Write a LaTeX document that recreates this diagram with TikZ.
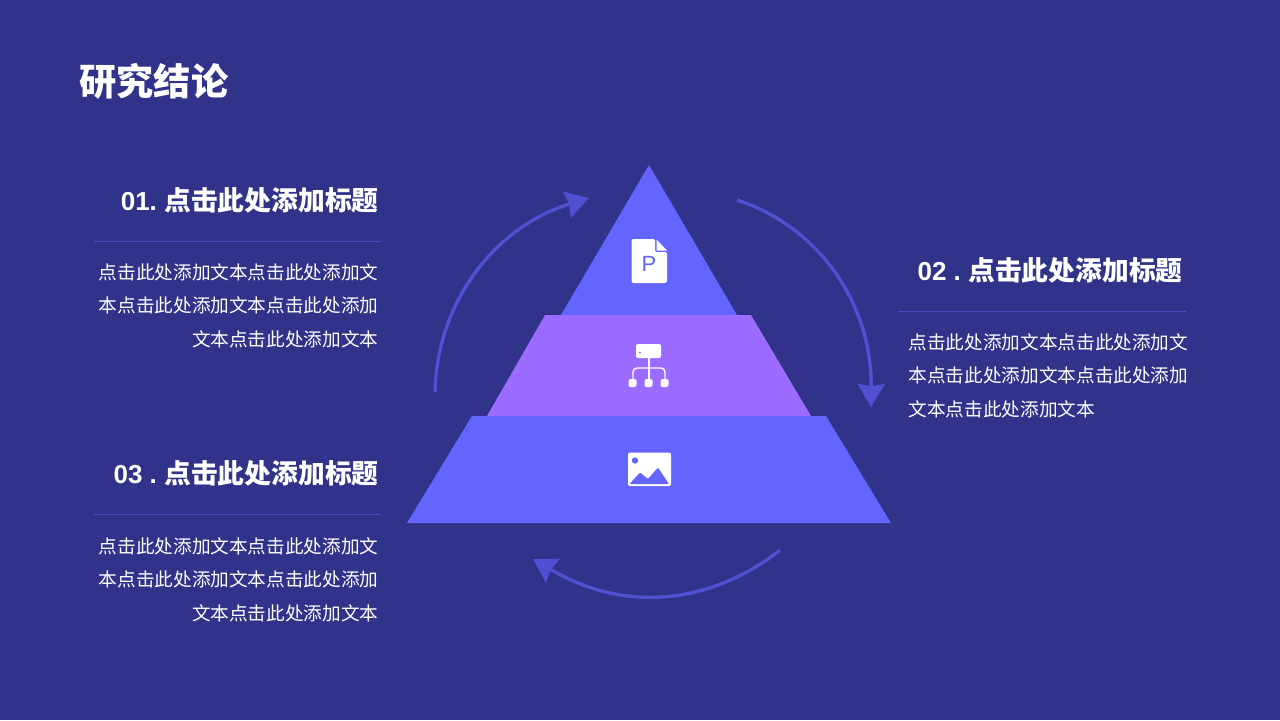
\documentclass[tikz,border=0pt]{standalone}
\usepackage{fontspec}
\setmainfont{Liberation Sans}
\newfontfamily\cjk{Noto Sans CJK SC}
\usetikzlibrary{arrows.meta}
\definecolor{bgblue}{HTML}{303389}
\definecolor{layerblue}{HTML}{6464FF}
\definecolor{layerviolet}{HTML}{9B6BFF}
\definecolor{arcblue}{HTML}{5050D2}
\definecolor{ruleblue}{HTML}{4A4AC4}
\tikzset{
  headline/.style={inner sep=0pt,text=white,font=\fontsize{13.4}{16}\selectfont\bfseries\cjk},
  bodytext/.style={inner sep=0pt,text=white,font=\fontsize{9.33}{16.75}\selectfont\cjk},
  rulerline/.style={draw=ruleblue,line width=0.5pt},
  cyclearc/.style={draw=arcblue,line width=1.7pt,-{Stealth[length=11.5pt,width=13.5pt,inset=1.2pt]}},
  iconwhite/.style={fill=white,rounded corners=1pt}
}
\newcommand{\numtext}[1]{{\fontspec{Liberation Sans}\fontsize{13}{16}\selectfont#1}\kern-1.2pt}
\begin{document}
\begin{tikzpicture}[x=0.5pt,y=-0.5pt]
  \useasboundingbox (0,0) rectangle (1280,720);
  \fill[bgblue] (0,0) rectangle (1280,720);
  \node[inner sep=0pt,anchor=west,text=white,font=\fontsize{18.6}{22}\selectfont\bfseries\cjk] (title) at (79,81) {研究结论};
  % pyramid
  \fill[layerblue] (649,165) -- (737,315) -- (561,315) -- cycle;
  \fill[layerviolet] (545,315) -- (751,315) -- (811,416) -- (487,416) -- cycle;
  \fill[layerblue] (472,416) -- (826,416) -- (891,523) -- (407,523) -- cycle;
  % arcs
  \coordinate (arcastart) at (435,392);
  \coordinate (arcaend) at (589,198);
  \coordinate (arcbstart) at (737,200);
  \coordinate (arcbend) at (871,407);
  \coordinate (arccstart) at (780,550);
  \coordinate (arccend) at (533,559);
  \draw[cyclearc] (arcastart) .. controls (437,300) and (497,226) .. (arcaend);
  \draw[cyclearc] (arcbstart) .. controls (815,225) and (872,300) .. (arcbend);
  \draw[cyclearc] (arccstart) .. controls (728,592) and (640,622) .. (arccend);
  % file icon
  \fill[iconwhite] (631.5,239) -- (655,239) -- (655,252) -- (667,252) -- (667,283) -- (631.5,283) -- cycle;
  \fill[white] (656.5,239.5) -- (667,250.5) -- (656.5,250.5) -- cycle;
  \node[inner sep=0pt,text=layerblue,font=\fontsize{11}{13}\selectfont] (filep) at (649,264) {P};
  % tree icon
  \fill[iconwhite] (636,344) rectangle (661,358);
  \fill[layerviolet] (640,352.5) circle (1);
  \draw[white,line width=0.7pt] (649,358) -- (649,381);
  \draw[white,line width=0.7pt,rounded corners=2pt] (633,381) -- (633,368) -- (665,368) -- (665,381);
  \foreach \i in {632.5,648.5,664.5}
    \fill[iconwhite] (\i-4,379) rectangle (\i+4,387);
  % picture icon
  \fill[iconwhite] (628,452.5) rectangle (671,486);
  \fill[layerblue] (635,460.5) circle (3.2);
  \fill[layerblue,rounded corners=0.5pt] (629.5,484) -- (640,472.5) -- (648,479) -- (658,467.5) -- (669,484) -- cycle;
  % first block
  \node[headline,anchor=east] (heada) at (379,200) {\numtext{01. }点击此处添加标题};
  \draw[rulerline] (94,241) -- (381,241);
  \node[bodytext,anchor=east,align=right] (texta) at (379,305.5) {点击此处添加文本点击此处添加文\\本点击此处添加文本点击此处添加\\文本点击此处添加文本};
  % second block
  \node[headline,anchor=east] (headb) at (1183,270) {\numtext{02 . }点击此处添加标题};
  \draw[rulerline] (898,311) -- (1186,311);
  \node[bodytext,anchor=west,align=left] (textb) at (908,375.5) {点击此处添加文本点击此处添加文\\本点击此处添加文本点击此处添加\\文本点击此处添加文本};
  % third block
  \node[headline,anchor=east] (headc) at (379,473) {\numtext{03 . }点击此处添加标题};
  \draw[rulerline] (94,514.5) -- (381,514.5);
  \node[bodytext,anchor=east,align=right] (textc) at (379,579.5) {点击此处添加文本点击此处添加文\\本点击此处添加文本点击此处添加\\文本点击此处添加文本};
\end{tikzpicture}
\end{document}
